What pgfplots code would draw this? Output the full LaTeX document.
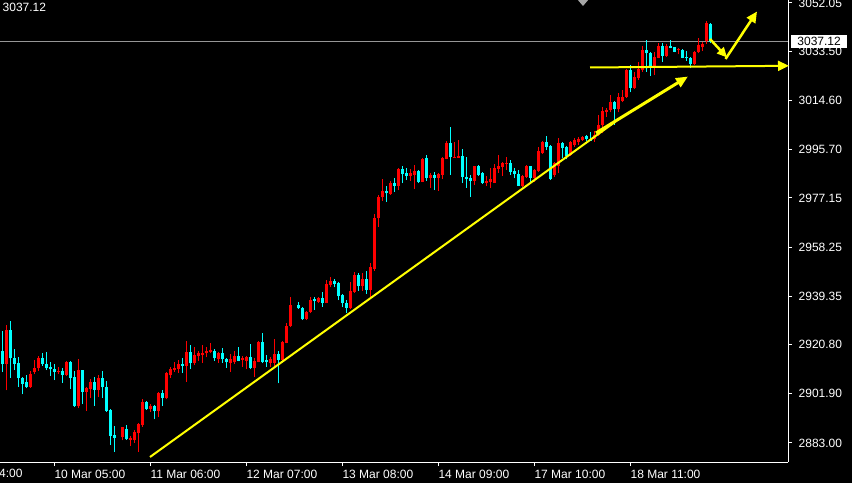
\documentclass[border=0pt]{standalone}
\usepackage{pgfplots}
\pgfplotsset{compat=1.18}
\usepackage{pgfplotstable}
\usepackage{fontspec}
\setmainfont{Liberation Sans}
\usetikzlibrary{arrows.meta}
\definecolor{candlered}{RGB}{255,0,0}
\definecolor{candlecyan}{RGB}{0,255,255}
\definecolor{priceline}{RGB}{150,150,150}
\definecolor{annot}{RGB}{255,255,0}

% H1 bars: x = bar index, o h l c
\pgfplotstableread{
x o h l c
1 2913.2 2928.3 2903.2 2926.4
7 2904.6 2910.8 2904.3 2909.5
8 2910.4 2914.9 2909.4 2912.0
9 2911.7 2916.4 2910.8 2915.8
14 2910.3 2912.2 2909.6 2910.7
16 2909.1 2914.5 2908.7 2914.1
19 2897.3 2915.3 2896.3 2911.0
21 2902.7 2904.5 2895.4 2904.1
22 2903.8 2907.6 2900.2 2906.6
24 2903.4 2909.1 2900.8 2908.1
30 2885.2 2889.3 2884.0 2889.0
32 2884.2 2885.7 2882.0 2884.8
33 2884.2 2888.0 2883.1 2887.3
34 2886.7 2890.5 2879.7 2890.2
35 2889.9 2899.8 2889.3 2898.9
37 2896.1 2898.0 2895.0 2897.2
39 2895.3 2902.7 2892.9 2902.3
41 2900.2 2910.1 2899.8 2909.8
42 2909.1 2912.1 2908.1 2911.4
43 2911.0 2914.0 2910.4 2911.9
44 2911.4 2914.9 2910.0 2913.5
46 2912.7 2922.2 2906.6 2918.1
48 2913.7 2919.8 2912.9 2916.9
49 2916.4 2918.5 2914.6 2917.4
50 2916.8 2920.7 2913.9 2917.7
51 2917.4 2920.0 2915.9 2918.5
52 2918.1 2921.6 2917.4 2918.7
54 2915.1 2918.1 2913.9 2917.4
57 2913.9 2917.2 2910.4 2915.1
58 2914.3 2918.5 2913.4 2916.4
60 2914.9 2916.4 2912.3 2915.7
61 2914.6 2916.4 2911.3 2916.2
63 2911.7 2915.5 2908.5 2914.6
64 2914.3 2922.2 2914.0 2921.9
67 2913.6 2915.9 2912.1 2915.1
68 2913.9 2922.9 2912.3 2917.2
70 2914.9 2922.3 2914.6 2921.9
71 2921.6 2929.2 2921.3 2927.9
72 2927.9 2939.0 2927.5 2936.0
76 2930.6 2933.8 2930.2 2933.5
77 2933.5 2939.0 2932.8 2937.9
79 2937.3 2939.2 2936.7 2938.6
81 2936.9 2945.6 2936.7 2944.1
82 2943.7 2946.6 2942.8 2945.2
87 2934.7 2945.0 2934.3 2941.4
88 2941.1 2948.6 2940.8 2947.5
90 2943.3 2948.2 2941.5 2946.0
92 2941.8 2952.0 2938.6 2950.5
93 2949.7 2971.0 2949.2 2969.3
94 2969.3 2978.3 2966.1 2977.4
95 2977.4 2984.4 2976.1 2979.9
97 2978.7 2983.8 2978.3 2982.8
99 2981.7 2988.5 2980.2 2988.3
102 2985.7 2988.3 2983.8 2986.9
103 2986.0 2989.8 2980.6 2987.6
105 2983.4 2992.4 2983.2 2992.1
107 2984.9 2986.6 2981.1 2986.0
109 2984.9 2986.9 2980.0 2986.3
110 2986.0 2992.8 2984.3 2992.4
111 2992.1 2999.2 2992.0 2998.4
113 2992.8 2998.8 2992.6 2993.0
114 2992.6 2999.4 2992.4 2993.3
118 2983.7 2989.6 2982.1 2989.4
121 2983.0 2985.6 2981.7 2983.8
122 2983.2 2988.5 2981.1 2984.4
123 2983.0 2990.2 2982.8 2988.8
124 2988.1 2993.7 2986.9 2989.4
125 2989.2 2991.1 2985.6 2990.5
126 2990.1 2993.0 2987.9 2990.7
130 2981.9 2986.0 2981.5 2985.6
131 2985.1 2989.8 2984.7 2989.4
133 2984.7 2988.1 2983.4 2987.9
134 2987.6 2996.6 2987.2 2995.2
135 2994.3 2999.2 2994.0 2998.8
138 2986.0 2991.1 2985.3 2990.7
139 2989.4 3000.1 2986.6 2998.4
142 2993.6 2999.2 2993.3 2998.8
143 2997.5 3000.0 2996.9 2999.4
144 2998.8 3000.4 2997.5 2999.7
145 2999.4 3001.0 2999.2 3000.7
148 2999.7 3003.0 2998.8 3001.3
149 3001.3 3009.0 3001.0 3005.2
150 3005.0 3012.0 3002.0 3010.6
151 3010.0 3011.6 3008.4 3010.9
152 3010.9 3016.7 3010.0 3013.9
154 3011.3 3017.3 3010.0 3016.1
155 3014.4 3018.6 3013.9 3016.1
156 3016.1 3026.6 3015.7 3026.3
158 3019.5 3025.7 3019.0 3023.7
159 3023.4 3029.3 3022.5 3026.7
160 3026.3 3035.5 3025.7 3034.0
163 3027.6 3033.1 3024.4 3031.4
164 3031.0 3036.6 3030.8 3035.5
166 3031.8 3036.2 3031.4 3035.5
169 3033.9 3034.6 3032.3 3034.4
173 3028.5 3033.6 3028.2 3033.3
174 3033.1 3038.5 3032.7 3035.9
175 3035.3 3036.9 3033.6 3036.2
176 3037.5 3045.1 3036.2 3044.2
}\upbars

\pgfplotstableread{
x o h l c
0 2918.4 2926.0 2910.2 2913.2
2 2926.4 2929.9 2908.1 2915.5
3 2915.8 2919.1 2911.0 2913.5
4 2913.7 2916.0 2904.6 2907.9
5 2908.0 2908.5 2901.7 2905.8
6 2906.4 2909.1 2904.0 2904.6
10 2915.8 2917.7 2912.7 2913.5
11 2913.4 2918.0 2911.0 2911.7
12 2912.1 2914.2 2908.9 2911.3
13 2911.6 2913.2 2907.2 2910.4
15 2910.8 2912.0 2906.2 2909.1
17 2914.1 2914.5 2903.9 2908.1
18 2908.4 2910.7 2896.9 2897.3
20 2911.0 2911.2 2897.9 2902.7
23 2906.6 2908.4 2897.3 2903.4
25 2907.8 2910.7 2900.2 2904.4
26 2904.6 2906.8 2895.1 2895.3
27 2895.7 2895.9 2882.2 2885.7
28 2886.1 2889.5 2879.7 2885.1
31 2888.4 2889.9 2884.2 2884.4
36 2898.9 2899.3 2895.7 2896.1
38 2897.2 2897.6 2892.1 2895.3
40 2902.3 2903.4 2897.2 2900.2
45 2913.5 2915.5 2910.0 2912.7
47 2918.1 2920.6 2911.4 2913.6
53 2918.5 2919.1 2914.6 2915.5
55 2917.4 2919.4 2913.9 2915.1
56 2915.4 2915.6 2911.9 2914.0
59 2916.4 2919.8 2914.4 2914.6
62 2915.9 2921.0 2911.3 2911.7
65 2921.9 2925.4 2913.6 2914.3
66 2914.9 2916.8 2912.3 2914.3
69 2917.2 2918.5 2905.9 2914.9
74 2936.0 2937.0 2934.4 2934.7
75 2935.0 2935.4 2930.2 2930.5
78 2938.2 2939.2 2934.1 2937.7
80 2938.6 2941.1 2935.4 2936.9
83 2945.2 2946.0 2942.8 2944.1
84 2944.6 2945.0 2937.9 2939.5
85 2939.9 2940.1 2935.1 2936.7
86 2936.9 2937.9 2932.8 2935.0
89 2947.5 2948.2 2941.5 2943.3
91 2946.0 2949.1 2940.3 2941.8
96 2979.9 2981.7 2975.7 2978.9
98 2982.8 2984.7 2979.6 2981.7
100 2988.3 2989.4 2982.8 2986.3
101 2986.9 2988.5 2984.0 2985.6
104 2987.5 2987.9 2982.8 2983.4
106 2992.4 2993.7 2983.8 2984.9
108 2986.0 2987.2 2980.2 2984.9
112 2998.4 3004.3 2986.0 2992.8
115 2993.3 2995.8 2982.8 2985.1
116 2985.3 2993.0 2981.1 2984.4
117 2984.9 2986.0 2977.6 2983.8
119 2989.4 2989.8 2985.6 2986.0
120 2986.6 2987.0 2982.5 2983.0
127 2990.7 2991.7 2986.0 2987.2
128 2987.6 2988.5 2984.7 2986.4
129 2986.4 2987.9 2981.7 2981.9
132 2989.4 2989.6 2983.4 2985.0
136 2998.8 3001.0 2995.6 2996.9
137 2997.1 2997.3 2984.0 2984.4
140 2998.1 2998.8 2992.4 2996.2
141 2996.9 2997.1 2992.0 2993.3
146 3001.0 3001.3 2999.2 2999.7
147 2999.7 3002.4 2999.0 2999.2
153 3013.9 3014.4 3005.2 3011.3
157 3026.3 3028.2 3017.7 3019.5
161 3034.0 3037.8 3025.7 3032.7
162 3032.7 3033.1 3024.1 3027.6
165 3035.5 3036.6 3029.3 3031.8
167 3035.5 3037.8 3034.6 3034.8
168 3035.0 3035.3 3033.1 3033.3
170 3034.0 3034.2 3030.8 3031.0
171 3031.4 3033.6 3029.8 3030.8
172 3031.0 3031.4 3026.9 3028.5
177 3043.9 3044.2 3036.6 3037.12
}\downbars

\pgfplotsset{
  wick/.style={draw=none, mark=none, forget plot,
    error bars/.cd, y dir=plus, y explicit, error mark=none,
    error bar style={draw=#1, line width=1bp, solid}},
  body/.style={draw=none, mark=none, forget plot,
    error bars/.cd, y dir=plus, y explicit, error mark=none,
    error bar style={draw=#1, line width=3bp, solid}},
}

\begin{document}
\begin{tikzpicture}
\fill[black] (0,0) rectangle (852bp,483bp);
\path[use as bounding box] (0,0) rectangle (852bp,483bp);
% current price line
\draw[priceline, line width=1bp] (0bp,441.5bp) -- (789bp,441.5bp);

\begin{axis}[
  at={(0bp,21bp)}, anchor=south west,
  scale only axis, width=788bp, height=462bp,
  xmin=-0.575, xmax=196.4,
  ymin=2875.7, ymax=3053.2,
  axis x line*=bottom, axis y line*=right,
  axis line style={white, line width=1bp, -},
  tick style={white, line width=1bp},
  tick align=outside, major tick length=4bp,
  xtick={13,37,61,85,109,133,157},
  xticklabels={10 Mar 05:00, 11 Mar 06:00, 12 Mar 07:00, 13 Mar 08:00, 14 Mar 09:00, 17 Mar 10:00, 18 Mar 11:00},
  ytick={2883.00,2901.90,2920.80,2939.35,2958.25,2977.15,2995.70,3014.60,3033.50,3052.05},
  yticklabels={2883.00,2901.90,2920.80,2939.35,2958.25,2977.15,2995.70,3014.60,3033.50,3052.05},
  tick label style={white, font=\fontsize{12bp}{14bp}\selectfont, inner sep=0pt},
  xticklabel style={anchor=north west, yshift=-4bp},
  yticklabel style={anchor=west, xshift=6.5bp},
]
\addplot[wick=candlered] table[x=x, y=l, y error plus expr=\thisrow{h}-\thisrow{l}] {\upbars};
\addplot[body=candlered] table[x=x, y=o, y error plus expr=\thisrow{c}-\thisrow{o}] {\upbars};
\addplot[wick=candlecyan] table[x=x, y=l, y error plus expr=\thisrow{h}-\thisrow{l}] {\downbars};
\addplot[body=candlecyan] table[x=x, y=c, y error plus expr=\thisrow{o}-\thisrow{c}] {\downbars};
\end{axis}

% first, cut-off date label
\node[anchor=north west, inner sep=0pt, white, font=\fontsize{12bp}{14bp}\selectfont] at (-41.7bp,14bp) {7 Mar 04:00};
% top-left price
\node[anchor=north west, inner sep=0pt, white, font=\fontsize{12bp}{14bp}\selectfont] at (2.5bp,479.7bp) {3037.12};
% current price box
\node[anchor=west, fill=white, text=black, inner sep=0pt, minimum width=56.5bp, minimum height=13bp, font=\fontsize{12bp}{14bp}\selectfont] at (790.7bp,441.5bp) {3037.12};
% small marker at top
\fill[gray!70] (577bp,484bp) -- (589bp,484bp) -- (583bp,477bp) -- cycle;

% hand-drawn annotations
\draw[annot, line width=2bp] (150bp,26bp) -- (615bp,361bp);
\draw[annot, line width=3bp, -{Triangle[length=12bp,width=10bp]}] (596bp,350bp) -- (688bp,406.5bp);
\draw[annot, line width=2bp, -{Triangle[length=11bp,width=10bp]}] (590bp,415.5bp) -- (789bp,417.2bp);
\draw[annot, line width=2.5bp, -{Triangle[length=10bp,width=9bp]}] (710bp,444bp) -- (727bp,425.5bp);
\draw[annot, line width=2.5bp, -{Triangle[length=11bp,width=10bp]}] (725.5bp,424bp) -- (757bp,471.5bp);
\end{tikzpicture}
\end{document}
